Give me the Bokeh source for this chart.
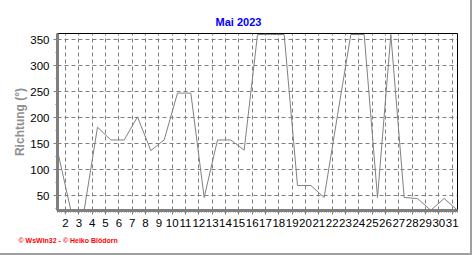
from bokeh.plotting import figure
from bokeh.models import Range1d, FixedTicker, Title, ColumnDataSource
from bokeh.embed import file_html
from bokeh.resources import INLINE

title_text = "Mai 2023"
y_label = "Richtung (°)"
footer_text = "© WsWin32 - © Heiko Blödorn"

days = list(range(1, 32))
direction = [137, 22.5, 22.5, 182, 157.5, 157.5, 202, 137, 157.5, 247.5,
             247.5, 47, 157.5, 157.5, 138, 360, 360, 360, 70, 70,
             47, 205, 360, 360, 47, 360, 47, 45, 22.5, 45, 22.5]
x_tick_days = list(range(2, 32))
y_ticks = [50, 100, 150, 200, 250, 300, 350]

p = figure(width=472, height=255, output_backend="svg", toolbar_location=None,
           x_range=Range1d(1, 31), y_range=Range1d(22, 362),
           min_border_left=57, min_border_right=15, min_border_top=33,
           min_border_bottom=45, background_fill_color="white",
           border_fill_color="white")

src = ColumnDataSource(dict(x=days, y=direction))
p.line("x", "y", source=src, line_color="#808080", line_width=1)

xt = [d - 0.4 for d in x_tick_days]
minor_x = [d / 6 for d in range(6, 6 * 32) if 1 <= d / 6 <= 31]
p.xaxis.ticker = FixedTicker(ticks=xt, minor_ticks=minor_x)
p.xaxis.major_label_overrides = {t: str(d) for t, d in zip(xt, x_tick_days)}
p.yaxis.ticker = FixedTicker(ticks=y_ticks, minor_ticks=[25 * k for k in range(1, 15)])

for ax in (p.xaxis[0], p.yaxis[0]):
    ax.axis_line_color = "#808080"
    ax.axis_line_width = 3
    ax.major_tick_line_color = "#808080"
    ax.minor_tick_line_color = "#808080"
    ax.major_tick_in = 0
    ax.minor_tick_in = 0
    ax.major_tick_out = 4
    ax.minor_tick_out = 2
    ax.major_label_text_font = "Liberation Sans"
    ax.major_label_text_font_size = "11.5px"
    ax.major_label_text_color = "black"
    ax.major_label_standoff = 4

p.yaxis.axis_label = y_label
p.yaxis.axis_label_text_font = "Liberation Sans"
p.yaxis.axis_label_text_font_size = "12px"
p.yaxis.axis_label_text_font_style = "bold"
p.yaxis.axis_label_text_color = "#909090"
p.yaxis.axis_label_standoff = 0

p.grid.grid_line_color = "#808080"
p.grid.grid_line_dash = "4 3"
p.grid.grid_line_width = 1
p.xgrid.ticker = FixedTicker(ticks=xt)
p.ygrid.ticker = FixedTicker(ticks=y_ticks)

p.outline_line_color = "black"
p.outline_line_width = 1

p.title.text = title_text
p.title.align = "left"
p.title.offset = 158
p.title.vertical_align = "middle"
p.title.text_font = "Liberation Sans"
p.title.text_font_size = "11px"
p.title.text_font_style = "bold"
p.title.text_color = "#0000ff"

p.add_layout(Title(text=footer_text, align="left", offset=-39,
                   text_font="Liberation Sans", text_font_size="7px",
                   text_font_style="bold", text_color="#ff0000"), "below")

p.styles = {"border-right": "2px solid #a0a0a0", "border-bottom": "2px solid #a0a0a0"}

open("out.html", "w").write(file_html(p, INLINE))
